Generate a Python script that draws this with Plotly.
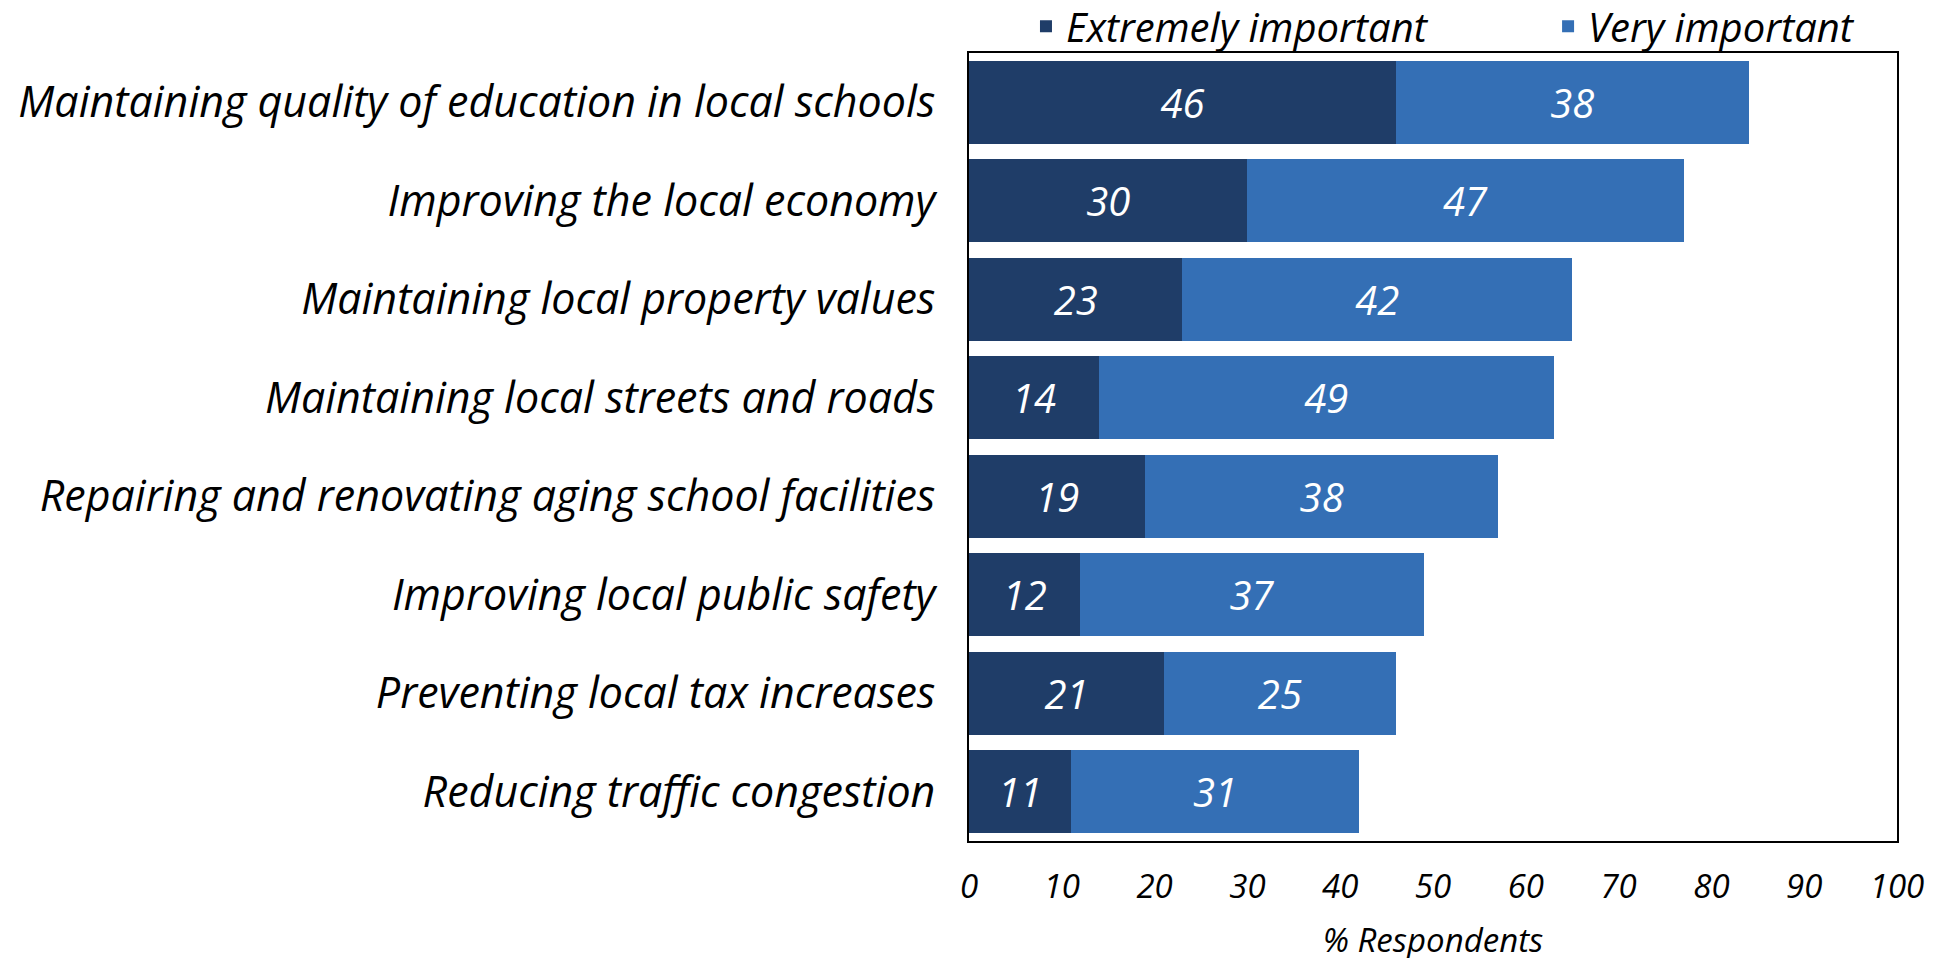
import plotly.graph_objects as go

categories = [
    "Maintaining quality of education in local schools",
    "Improving the local economy",
    "Maintaining local property values",
    "Maintaining local streets and roads",
    "Repairing and renovating aging school facilities",
    "Improving local public safety",
    "Preventing local tax increases",
    "Reducing traffic congestion",
]
extremely_important = [46, 30, 23, 14, 19, 12, 21, 11]
very_important = [38, 47, 42, 49, 38, 37, 25, 31]
x_ticks = [0, 10, 20, 30, 40, 50, 60, 70, 80, 90, 100]
series_names = ["Extremely important", "Very important"]

FONT = "Open Sans"
DARK = "#1f3d68"
LIGHT = "#346fb5"

fig = go.Figure()
for name, vals, col, leg in [(series_names[0], extremely_important, DARK, "legend"),
                             (series_names[1], very_important, LIGHT, "legend2")]:
    fig.add_trace(go.Bar(
        y=categories, x=vals, orientation="h",
        name=name, marker=dict(color=col, line=dict(width=0)),
        text=vals, textposition="inside", insidetextanchor="middle",
        textfont=dict(family=FONT, size=40, color="white", style="italic"),
        legend=leg, showlegend=True,
    ))

leg_common = dict(
    orientation="h", xanchor="left", y=1.034, yanchor="middle",
    font=dict(family=FONT, size=40, color="black", style="italic"),
    bgcolor="rgba(0,0,0,0)",
)

fig.update_layout(
    barmode="stack",
    bargap=0.16,
    width=1944, height=958,
    margin=dict(l=961, r=55, t=45, b=125, autoexpand=False),
    paper_bgcolor="white", plot_bgcolor="white",
    font=dict(family=FONT, color="black", style="italic"),
    uniformtext=dict(minsize=10, mode="show"),
    legend=dict(x=0.0614, **leg_common),
    legend2=dict(x=0.624, **leg_common),
    showlegend=True,
)
fig.update_xaxes(
    range=[0, 100], tickvals=x_ticks, ticktext=[str(v) for v in x_ticks],
    showgrid=False, zeroline=False,
    showline=True, mirror=True, linecolor="black", linewidth=2,
    ticks="outside", ticklen=15, tickcolor="rgba(0,0,0,0)",
    tickfont=dict(family=FONT, size=33, color="black", style="italic"),
    title=dict(text="% Respondents", standoff=22,
               font=dict(family=FONT, size=33, color="black", style="italic")),
)
fig.update_yaxes(
    autorange="reversed",
    showgrid=False, zeroline=False,
    showline=True, mirror=True, linecolor="black", linewidth=2,
    ticks="outside", ticklen=23, tickcolor="rgba(0,0,0,0)",
    tickfont=dict(family=FONT, size=43, color="black", style="italic"),
)

fig.write_html("out.html")
